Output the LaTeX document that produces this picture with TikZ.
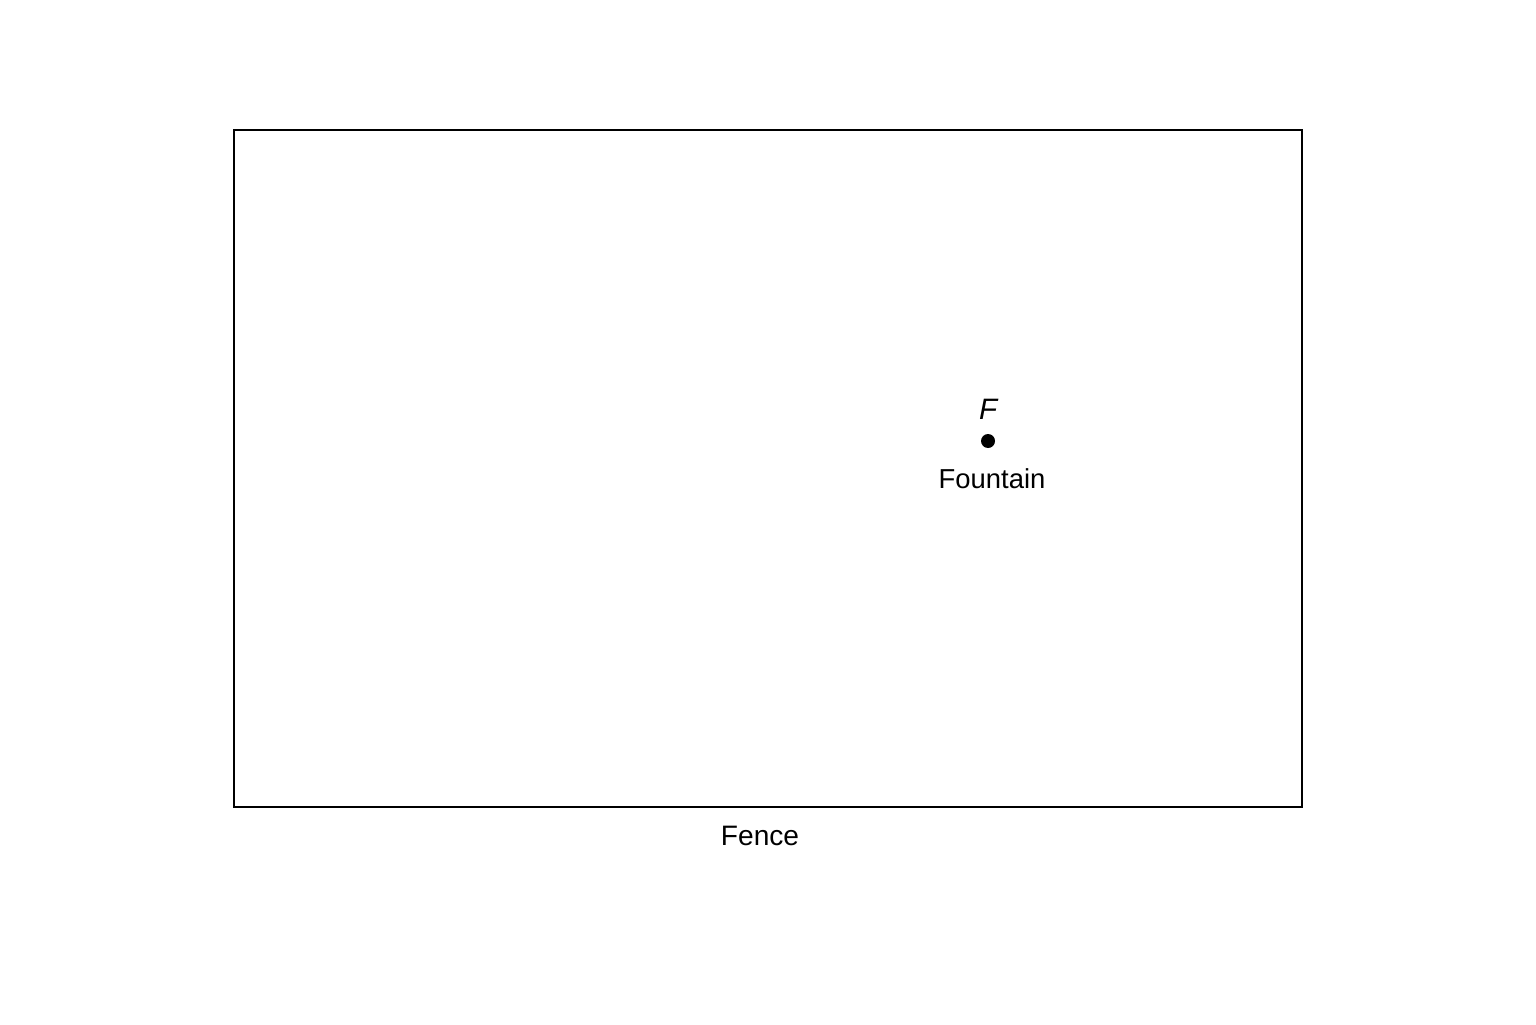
\documentclass[tikz,border=0pt]{standalone}
\usepackage{fontspec}
\setmainfont{Liberation Sans}
\usetikzlibrary{positioning}
\tikzset{
    %Define style for the fence outline
    fencebox/.style={
           rectangle,
           draw=black,
           line width=0.6pt,
           minimum width=10.68cm,
           minimum height=6.77cm,
           inner sep=0pt},
    %Define style for the point marker
    spot/.style={
           circle,
           fill=black,
           inner sep=0pt,
           minimum size=0.14cm},
    %Define style for text labels
    tag/.style={
           font=\fontsize{8}{10}\selectfont,
           inner sep=1pt,
           text centered}
}
\begin{document}
\begin{tikzpicture}
\useasboundingbox (0,0) rectangle (15.36,10.24);
 %nodes
\node[fencebox](fence) at (7.68,5.555){};
\node[spot](spot) at (9.88,5.83){};
\node[tag, above=0.1cm of spot, font=\fontsize{8.4}{10}\selectfont](F){\itshape F};
\node[tag, below=0.155cm of spot, xshift=0.04cm, font=\fontsize{7.8}{10}\selectfont](fountain){Fountain};
\node[tag, below=0.135cm of fence.south, xshift=-0.08cm](fencetag){Fence};
\end{tikzpicture}
\end{document}
